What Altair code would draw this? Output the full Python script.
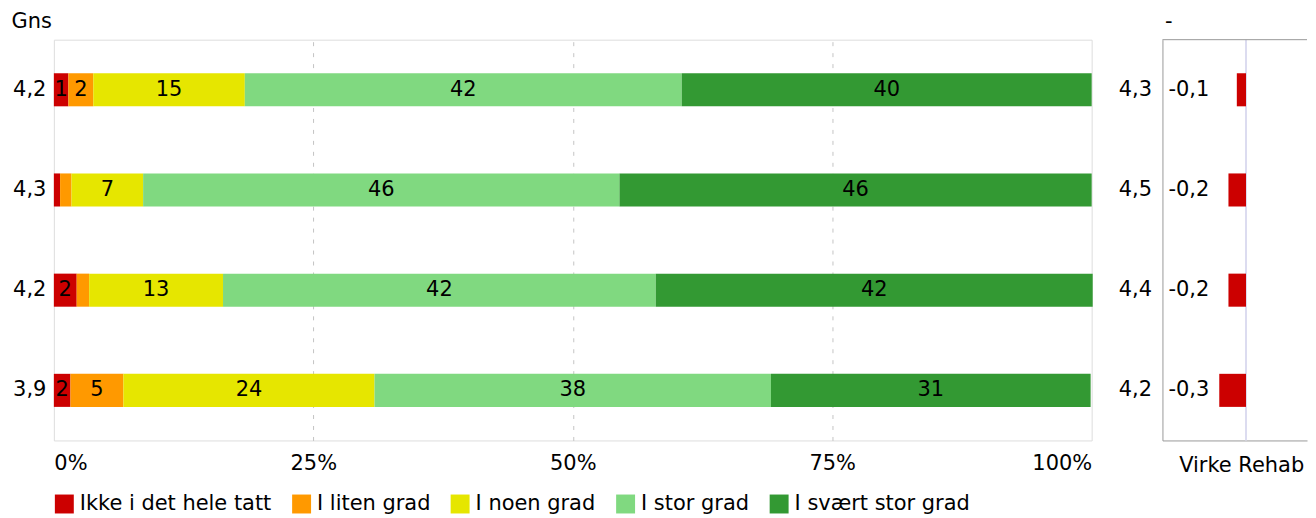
import json
import altair as alt
import pandas as pd

# ---- data ----
rows = [0, 1, 2, 3]
gns = ["4,2", "4,3", "4,2", "3,9"]
benchmark = ["4,3", "4,5", "4,4", "4,2"]
categories = ["Ikke i det hele tatt", "I liten grad", "I noen grad", "I stor grad", "I svært stor grad"]
colors = ["#cc0000", "#ff9900", "#e6e600", "#80d980", "#339933"]
ikke = [1.4, 0.6, 2.2, 1.6]
liten = [2.4, 1.1, 1.2, 5.1]
noen = [14.6, 6.9, 12.9, 24.2]
stor = [42.1, 45.9, 41.7, 38.2]
svaert = [39.5, 45.5, 42.1, 30.8]
diff = [-0.11, -0.21, -0.21, -0.32]
benchmark_title = "Virke Rehab"
diff_domain = [-1.0, 0.73]
label_min = 1.3

# ---- tables ----
series = [ikke, liten, noen, stor, svaert]
recs = []
for r in rows:
    start = 0.0
    for ci, cat in enumerate(categories):
        v = series[ci][r]
        recs.append({
            "row": r, "cat": cat, "order": ci, "value": v,
            "start": start, "end": start + v, "mid": start + v / 2,
            "lab": str(int(round(v))) if v >= label_min else "",
        })
        start += v
df = pd.DataFrame(recs)

rdf = pd.DataFrame({
    "row": rows,
    "diff": diff,
    "lab": [f"{v:.1f}".replace(".", ",") for v in diff],
})
zdf = pd.DataFrame({"z": [0]})

F = "DejaVu Sans"
FS = 21
BORDER = "#999999"

yscale = alt.Scale(paddingInner=0.67, paddingOuter=0.335)

left_yaxis = alt.Axis(
    title="Gns", labelExpr=json.dumps(gns) + "[datum.value]",
    ticks=False, domain=False, labelPadding=8, labelFontSize=FS, labelFont=F,
    labelColor="black", titleAngle=0, titleX=-43, titleY=-12, titleAlign="left",
    titleBaseline="alphabetic", titleFontWeight="normal", titleFontSize=FS,
    titleFont=F, titleColor="black",
)
left_xaxis = alt.Axis(
    title=None, values=[0, 25, 50, 75, 100], labelExpr="datum.value + '%'",
    grid=True, gridDash=[4, 7], gridColor="#c4c4c4",
    gridOpacity=alt.condition("datum.value == 0 || datum.value == 100", alt.value(0), alt.value(1)),
    ticks=False, domain=False, labelFlush=True, labelPadding=12,
    labelFontSize=FS, labelFont=F, labelColor="black",
)

base = alt.Chart(df)
bars = base.mark_bar().encode(
    y=alt.Y("row:O", scale=yscale, axis=left_yaxis),
    x=alt.X("start:Q", scale=alt.Scale(domain=[0, 100], nice=False), axis=left_xaxis),
    x2="end:Q",
    color=alt.Color(
        "cat:N",
        scale=alt.Scale(domain=categories, range=colors),
        legend=alt.Legend(
            title=None, orient="none", legendX=0, legendY=455, direction="horizontal",
            symbolType="square", symbolSize=361, symbolStrokeWidth=0, symbolOpacity=1,
            labelFontSize=FS, labelFont=F, labelColor="black", labelOffset=5,
            columnPadding=19, labelLimit=400, padding=0,
        ),
    ),
)
texts = base.mark_text(fontSize=FS, font=F, color="black").encode(
    y=alt.Y("row:O", scale=yscale),
    x=alt.X("mid:Q"),
    text="lab:N",
)
left = alt.layer(bars, texts).properties(width=1041, height=402)

right_yaxis = alt.Axis(
    title="-", labelExpr=json.dumps(benchmark) + "[datum.value]",
    ticks=False, domain=True, domainColor=BORDER, domainWidth=1,
    labelPadding=11, labelFontSize=FS, labelFont=F,
    labelColor="black", titleAngle=0, titleX=2, titleY=-12, titleAlign="left",
    titleBaseline="alphabetic", titleFontWeight="normal", titleFontSize=FS,
    titleFont=F, titleColor="black",
)
right_xaxis = alt.Axis(
    title=benchmark_title, labels=False, ticks=False, domain=True,
    domainColor=BORDER, domainWidth=1, grid=False,
    titlePadding=14, titleFontSize=FS, titleFont=F, titleFontWeight="normal",
    titleColor="black", titleX=79, titleAlign="center", titleAnchor="start",
)
xr = alt.Scale(domain=diff_domain, nice=False)
zero = alt.Chart(zdf).mark_rule(color="#dcdcf0", strokeWidth=2).encode(
    x=alt.X("z:Q", scale=xr, axis=right_xaxis)
)
top_border = alt.Chart(zdf).mark_rule(color=BORDER, strokeWidth=1).encode(
    y=alt.value(0)
)
rbars = alt.Chart(rdf).mark_bar(color="#cc0000").encode(
    y=alt.Y("row:O", scale=yscale, axis=right_yaxis),
    x=alt.X("diff:Q", scale=xr, axis=right_xaxis),
)
rtext = alt.Chart(rdf).mark_text(fontSize=FS, font=F, color="black", align="left").encode(
    y=alt.Y("row:O", scale=yscale),
    x=alt.value(6),
    text="lab:N",
)
right = alt.layer(zero, top_border, rbars, rtext).properties(
    width=145, height=402, view=alt.ViewBackground(strokeOpacity=0)
)

chart = (
    alt.hconcat(left, right, spacing=24)
    .resolve_scale(y="independent", x="independent", color="independent")
    .resolve_legend(color="independent")
    .properties(padding={"left": 2, "top": 1, "right": 0, "bottom": 0})
    .configure_view(stroke=BORDER, strokeWidth=1)
    .configure(font=F)
)

chart.save("out.html", embed_options={"renderer": "svg", "actions": False})
